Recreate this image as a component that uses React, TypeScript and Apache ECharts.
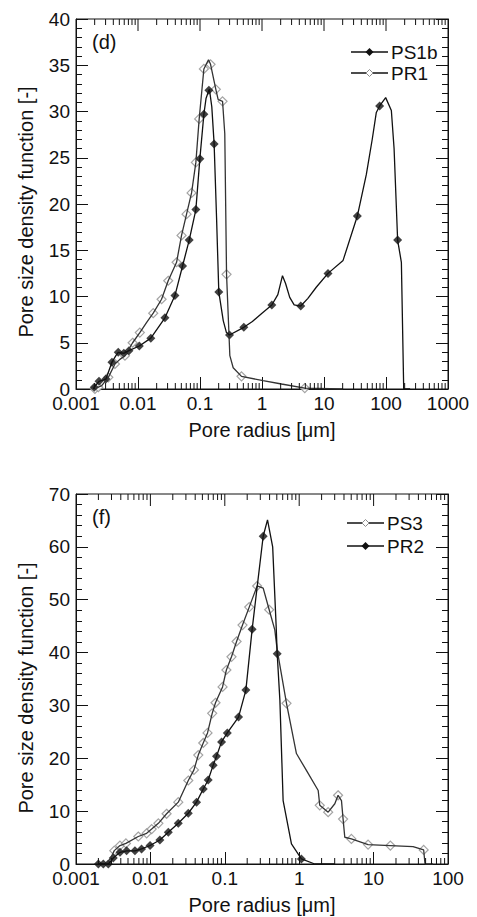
import React, { useEffect, useRef } from "react";
import * as echarts from "echarts";

// ---------- tick values / labels ----------
const topDecades = [0.001, 0.01, 0.1, 1, 10, 100, 1000];
const topLabelDecades = [0.001, 0.01, 0.1, 1, 10, 100];
const topLastLabel = "1000";
const botDecades = [0.001, 0.01, 0.1, 1, 10, 100];
const minorMultipliers = [2, 3, 4, 5, 6, 7, 8, 9];
const topYMax = 40;
const topYStep = 5;
const botYMax = 70;
const botYStep = 10;

// ---------- panel (d) ----------
const ps1bLine: number[][] = [
  [0.0019, 0], [0.0044, 3.6], [0.125, 31.4], [0.142, 32.4], [0.155, 30.5],
  [0.185, 18.5], [0.237, 7.4], [0.267, 6.1], [0.7, 7.3], [1.0, 8.2],
  [1.8, 10.2], [2.14, 12.25], [2.4, 11.4], [2.8, 9.9], [3.3, 9.1],
  [5.5, 9.8], [7.5, 11.0], [20.3, 13.9], [48.2, 23.2], [60, 27.0],
  [69.8, 29.9], [98.8, 31.5], [122, 30.1], [135, 26.0], [177, 13.7],
  [193, 0], [245, 0],
];
const ps1bMarkers: number[][] = [
  [0.00197, 0.2], [0.00235, 0.83], [0.00304, 1.08], [0.0038, 2.9], [0.0048, 3.96],
  [0.0059, 3.86], [0.00714, 4.14], [0.0105, 4.65], [0.0161, 5.5], [0.0272, 7.7],
  [0.0394, 10.1], [0.0523, 13.3], [0.067, 16.1], [0.0858, 19.4], [0.0995, 24.9],
  [0.1155, 29.7], [0.139, 32.3], [0.169, 26.5], [0.201, 10.5], [0.299, 5.84],
  [0.509, 6.67], [1.44, 9.08], [4.22, 8.97], [11.6, 12.5], [34.5, 18.7],
  [79, 30.6], [154, 16.1],
];
const pr1Line: number[][] = [
  [0.00197, 0], [0.0026, 0.36], [0.0051, 3.2], [0.0138, 7.2], [0.137, 35.6],
  [0.196, 31.3], [0.251, 27.6], [0.303, 3.6], [0.343, 2.3], [1.04, 0.9],
  [2.06, 0.54], [20.3, 0],
];
const pr1Markers: number[][] = [
  [0.00202, 0], [0.00229, 0.2], [0.00332, 1.26], [0.00425, 2.7], [0.00616, 3.6],
  [0.00819, 5.0], [0.0107, 6.1], [0.0176, 8.2], [0.024, 9.7], [0.0307, 11.7],
  [0.0419, 13.7], [0.0504, 16.6], [0.0607, 18.9], [0.0731, 21.2], [0.0858, 24.5],
  [0.097, 29.2], [0.1155, 34.6], [0.148, 35.1], [0.18, 32.4], [0.231, 31.1],
  [0.268, 12.4], [0.467, 1.37], [4.9, 0.1],
];

// ---------- panel (f) ----------
const ps3Line: number[][] = [
  [0.0025, 0], [0.0029, 1.0], [0.328, 52.2], [0.47, 44.3], [0.506, 40.5],
  [0.918, 20.9], [1.25, 17.7], [1.8, 13.9], [3.01, 11.4], [3.7, 12.0],
  [4.1, 5.06], [33.9, 3.29], [49.1, 0], [63, 0],
];
const ps3Markers: number[][] = [
  [0.00327, 2.53], [0.0039, 3.48], [0.00469, 3.9], [0.00687, 5.2], [0.0089, 5.8],
  [0.0104, 6.6], [0.0128, 7.7], [0.0165, 9.5], [0.0237, 11.7], [0.0323, 15.8],
  [0.0385, 17.8], [0.044, 20.6], [0.0513, 22.9], [0.0586, 24.8], [0.0677, 28.5],
  [0.075, 30.5], [0.0933, 33.5], [0.105, 36.7], [0.123, 39.2], [0.144, 42.1],
  [0.173, 45.2], [0.213, 48.6], [0.272, 52.6], [0.395, 48.1], [0.675, 30.4],
  [1.89, 11.1], [2.45, 9.8], [3.33, 13.0], [3.89, 8.5], [5.03, 4.74],
  [8.43, 3.67], [16.8, 3.48], [47.1, 2.66],
];
const pr2Line: number[][] = [
  [0.375, 65.1], [0.44, 60], [0.49, 45], [0.55, 31], [0.608, 12],
  [0.787, 3.8], [1.62, 0], [3, 0],
];
const pr2Markers: number[][] = [
  [0.002, 0], [0.00233, 0], [0.00272, 0], [0.00317, 1.14], [0.0039, 2.2],
  [0.00479, 2.5], [0.0062, 2.5], [0.0076, 2.85], [0.0099, 3.5], [0.0134, 4.55],
  [0.0174, 6.0], [0.0237, 7.7], [0.0323, 9.6], [0.0417, 11.7], [0.0513, 14.2],
  [0.0598, 15.9], [0.0698, 18.7], [0.0774, 20.4], [0.0904, 23.1], [0.108, 24.8],
  [0.153, 27.8], [0.192, 32.9], [0.233, 44.4], [0.328, 62.0], [0.506, 39.8],
  [1.07, 0.95],
];

const FONT = "'Liberation Sans', Arial, Helvetica, sans-serif";
const INK = "#111";
const OPEN_EDGE = "#8c8c8c";
const X_TITLE = "Pore radius [μm]";
const Y_TITLE = "Pore size density function [-]";

function merge(a: number[][], b: number[][]) {
  return [...a, ...b].sort((p, q) => p[0] - q[0]);
}

// rows: [x, 0, length] — majors (inner decades, top side) and minors (both sides)
function xTickRows(decades: number[]) {
  const rows: number[][] = [];
  decades.forEach((d, i) => {
    if (i < decades.length - 1) minorMultipliers.forEach((m) => rows.push([+(d * m).toPrecision(6), 0, 6]));
  });
  return rows;
}
function xTopMajorRows(decades: number[]) {
  return decades.slice(1, -1).map((d) => [d, 0, 12]);
}

function tickSeries(grid: number, decades: number[], yMax: number) {
  return {
    type: "custom",
    coordinateSystem: "cartesian2d",
    xAxisIndex: grid,
    yAxisIndex: grid * 2,
    clip: false,
    silent: true,
    z: 5,
    encode: { x: 0, y: 1 },
    data: [...xTickRows(decades), ...xTopMajorRows(decades)],
    renderItem: (params: any, api: any) => {
      const x = api.value(0);
      const len = api.value(2);
      const b = api.coord([x, 0]);
      const t = api.coord([x, yMax]);
      const children: any[] = [
        { type: "line", shape: { x1: t[0], y1: t[1], x2: t[0], y2: t[1] + len }, style: { stroke: INK, lineWidth: 1 } },
      ];
      if (len < 12) {
        children.push({ type: "line", shape: { x1: b[0], y1: b[1], x2: b[0], y2: b[1] - len }, style: { stroke: INK, lineWidth: 1 } });
      }
      return { type: "group", children };
    },
  };
}

function xAxisFor(grid: number, decades: number[], labelDecades: number[]) {
  return {
    gridIndex: grid,
    type: "log",
    min: decades[0],
    max: decades[decades.length - 1],
    splitLine: { show: false },
    axisLine: { show: true, onZero: false, lineStyle: { color: INK } },
    axisTick: { show: true, inside: true, length: 12, customValues: decades, lineStyle: { color: INK } },
    axisLabel: { customValues: labelDecades, fontSize: 19, fontFamily: FONT, color: INK, margin: 5 },
  };
}

function yAxesFor(grid: number, max: number, interval: number) {
  const base: any = {
    gridIndex: grid,
    type: "value",
    min: 0,
    max,
    interval,
    splitLine: { show: false },
    axisLine: { show: true, lineStyle: { color: INK } },
    axisTick: { show: true, inside: true, length: 12, lineStyle: { color: INK } },
    minorTick: { show: true, splitNumber: 5, length: 6, lineStyle: { color: INK } },
  };
  return [
    { ...base, position: "left", axisLabel: { show: true, margin: 6, fontFamily: FONT, fontSize: 19, color: INK } },
    { ...base, position: "right", axisLabel: { show: false } },
  ];
}

function curveSeries(line: number[][], markers: number[][], filled: boolean, grid: number) {
  const itemStyle = filled
    ? { color: INK }
    : { color: "#ffffff", borderColor: OPEN_EDGE, borderWidth: 1.2 };
  return [
    {
      type: "line",
      xAxisIndex: grid,
      yAxisIndex: grid * 2,
      data: merge(line, markers),
      showSymbol: false,
      lineStyle: { color: filled ? INK : "#333", width: 1.3 },
      silent: true,
    },
    {
      type: "scatter",
      xAxisIndex: grid,
      yAxisIndex: grid * 2,
      data: markers,
      symbol: "diamond",
      symbolSize: 9,
      itemStyle,
      silent: true,
    },
  ];
}

function legendGraphic(name: string, filled: boolean, x1: number, x2: number, y: number) {
  const cx = (x1 + x2) / 2;
  const r = filled ? 4 : 3.5;
  return [
    { type: "line", shape: { x1, y1: y, x2, y2: y }, style: { stroke: INK, lineWidth: 1.3 } },
    {
      type: "polygon",
      shape: { points: [[cx, y - r], [cx + r, y], [cx, y + r], [cx - r, y]] },
      style: filled ? { fill: INK } : { fill: "#fff", stroke: OPEN_EDGE, lineWidth: 1 },
    },
    { type: "text", x: x2 + 3, y, style: { text: name, font: `19px ${FONT}`, fill: INK, verticalAlign: "middle" } },
  ];
}

export default function App() {
  const ref = useRef<HTMLDivElement>(null);
  useEffect(() => {
    if (!ref.current) return;
    const chart = echarts.init(ref.current, undefined, { renderer: "svg" });
    const option = {
      animation: false,
      grid: [
        { left: 76, top: 19, width: 372, height: 370, show: true, borderColor: INK, borderWidth: 1 },
        { left: 76, top: 494, width: 372, height: 370, show: true, borderColor: INK, borderWidth: 1 },
      ],
      xAxis: [xAxisFor(0, topDecades, topLabelDecades), xAxisFor(1, botDecades, botDecades)],
      yAxis: [...yAxesFor(0, topYMax, topYStep), ...yAxesFor(1, botYMax, botYStep)],
      series: [
        tickSeries(0, topDecades, topYMax),
        tickSeries(1, botDecades, botYMax),
        ...curveSeries(pr1Line, pr1Markers, false, 0),
        ...curveSeries(ps1bLine, ps1bMarkers, true, 0),
        ...curveSeries(ps3Line, ps3Markers, false, 1),
        ...curveSeries(pr2Line, pr2Markers, true, 1),
      ],
      graphic: [
        ...legendGraphic("PS1b", true, 351, 388, 52),
        ...legendGraphic("PR1", false, 351, 388, 73),
        ...legendGraphic("PS3", false, 347, 384, 523),
        ...legendGraphic("PR2", true, 347, 384, 546),
        { type: "text", x: 448, y: 394, style: { text: topLastLabel, font: `19px ${FONT}`, fill: INK, align: "center", verticalAlign: "top" } },
        { type: "text", left: 92, top: 32, style: { text: "(d)", font: `20px ${FONT}`, fill: INK } },
        { type: "text", left: 92, top: 507, style: { text: "(f)", font: `20px ${FONT}`, fill: INK } },
        { type: "text", x: 262, y: 430, style: { text: X_TITLE, font: `20px ${FONT}`, fill: INK, align: "center", verticalAlign: "middle" } },
        { type: "text", x: 262, y: 905, style: { text: X_TITLE, font: `20px ${FONT}`, fill: INK, align: "center", verticalAlign: "middle" } },
        { type: "text", x: 26, y: 212, rotation: Math.PI / 2, style: { text: Y_TITLE, font: `20px ${FONT}`, fill: INK, align: "center", verticalAlign: "middle" } },
        { type: "text", x: 26, y: 688, rotation: Math.PI / 2, style: { text: Y_TITLE, font: `20px ${FONT}`, fill: INK, align: "center", verticalAlign: "middle" } },
      ],
    };
    chart.setOption(option as any);
    return () => chart.dispose();
  }, []);
  return <div ref={ref} style={{ position: "absolute", left: 0, top: 0, width: 477, height: 917, background: "#fff" }} />;
}
